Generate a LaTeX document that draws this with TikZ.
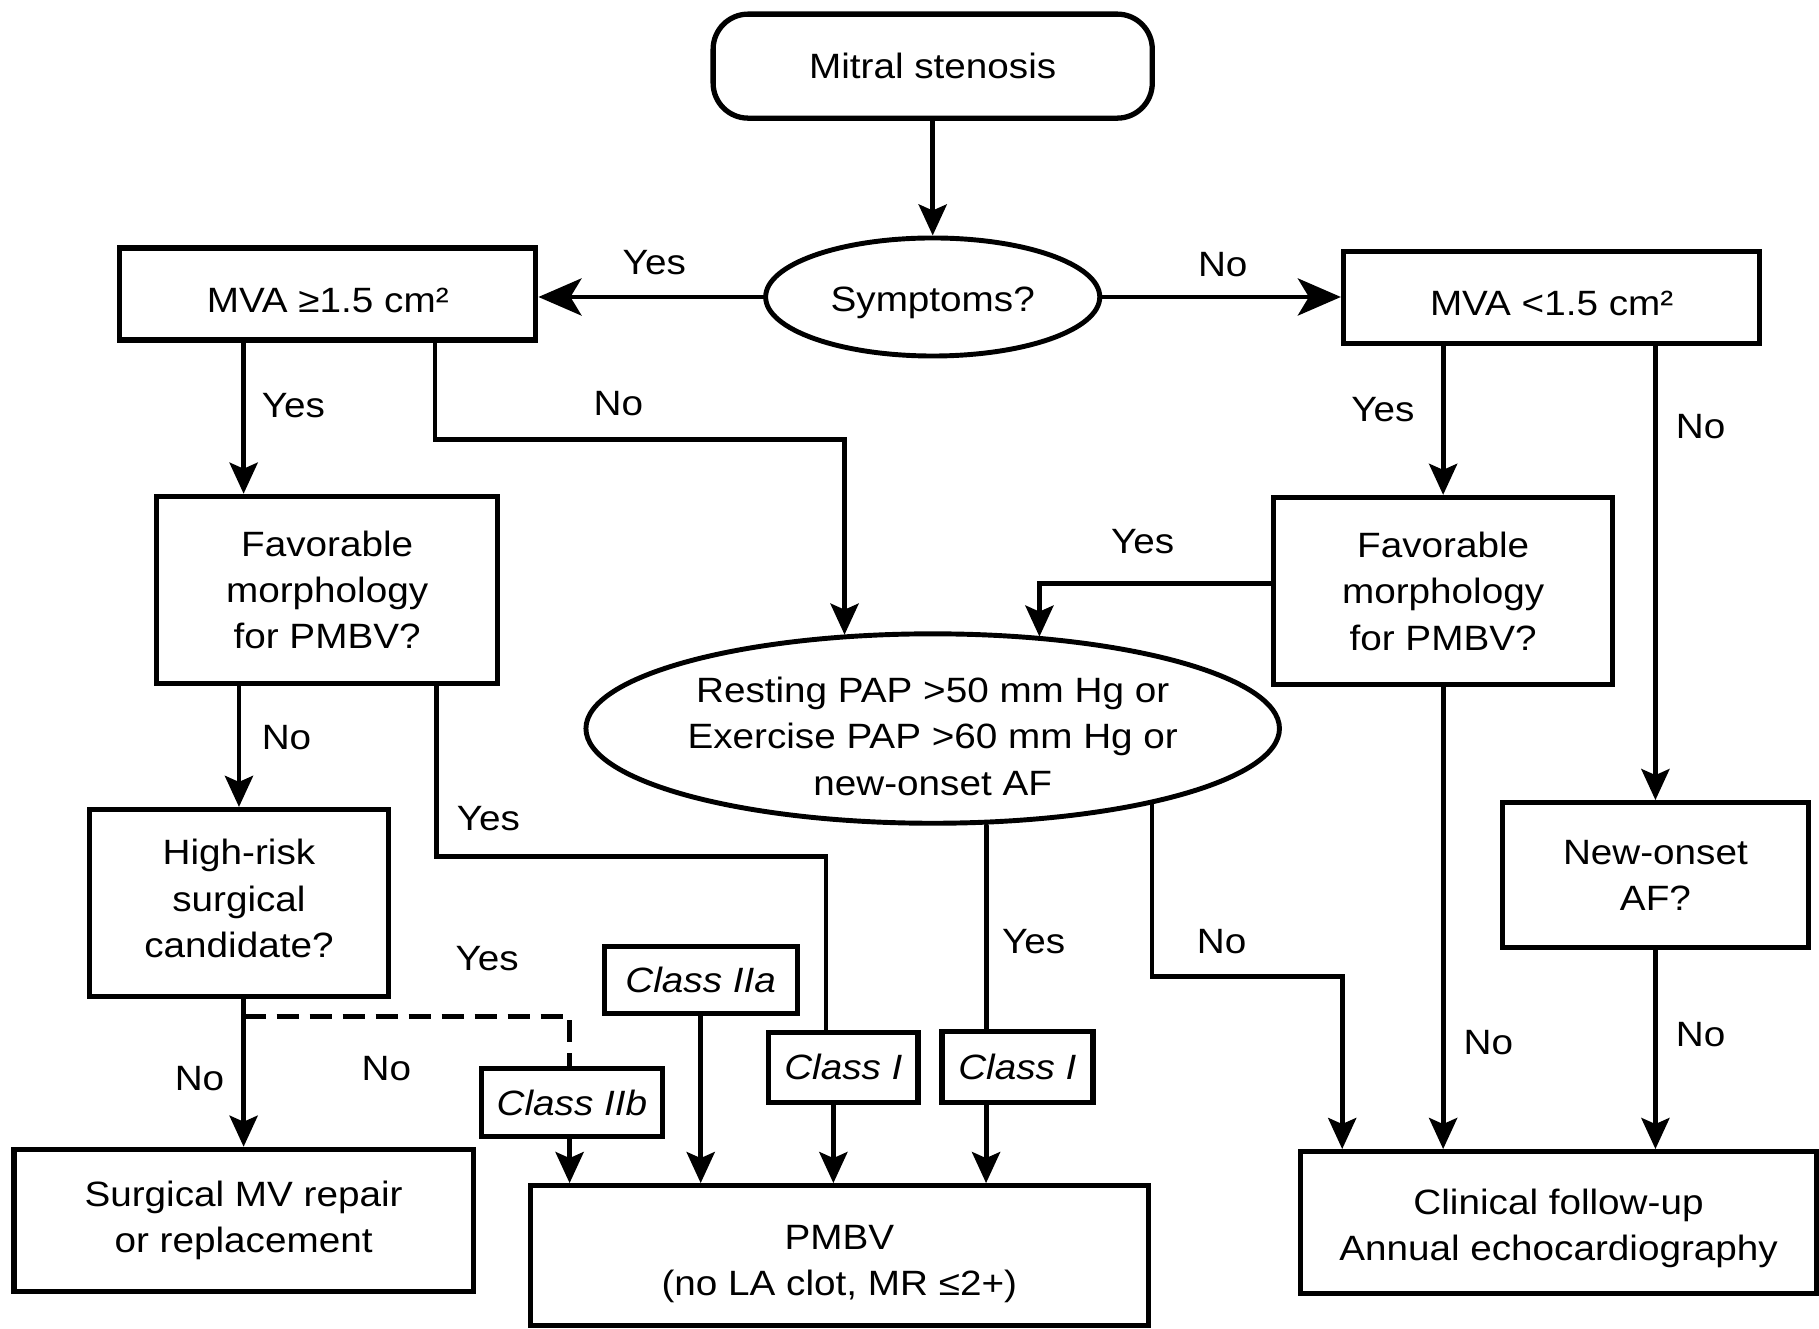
\documentclass[tikz,border=0pt]{standalone}
\usepackage{fontspec}
\setmainfont{Liberation Sans}[FakeStretch=1.1]
\usetikzlibrary{arrows.meta,shapes.geometric}

\begin{document}
\begin{tikzpicture}[x=0.0116cm,y=-0.0116cm,>={Stealth[length=3.1mm,width=2.8mm,inset=0.6mm]},
  font=\fontsize{10}{13.2}\selectfont,line cap=round,
  box/.style={draw,line width=1.5pt,align=center,inner sep=0pt},
  oval/.style={draw,ellipse,line width=1.4pt,align=center,inner sep=0pt},
  cls/.style={draw,line width=1.5pt,inner sep=0pt,font=\fontsize{10}{13.2}\selectfont\itshape},
  link/.style={line width=1.4pt},
  big/.style={line width=1.4pt,-{Stealth[length=4.3mm,width=3.7mm,inset=1.1mm]}}]
\useasboundingbox (0,0) rectangle (1568,1145);
\node[box,rounded corners=0.35cm,minimum width=4.39cm,minimum height=1.04cm] (start) at (804,57) {Mitral stenosis};
\node[oval,minimum width=3.34cm,minimum height=1.18cm] (sympt) at (804,256) {\rule{0pt}{10.5pt}Symptoms?};
\node[box,minimum width=4.16cm,minimum height=0.92cm] (mvaA) at (282.5,253.5) {\rule{0pt}{10.5pt}MVA ≥1.5 cm²};
\node[box,minimum width=4.16cm,minimum height=0.92cm] (mvaB) at (1337.5,256.5) {\rule{0pt}{10.5pt}MVA <1.5 cm²};
\node[box,minimum width=3.41cm,minimum height=1.87cm] (favA) at (282,508.5) {Favorable\\morphology\\for PMBV?};
\node[box,minimum width=3.39cm,minimum height=1.87cm] (favB) at (1244,509.5) {Favorable\\morphology\\for PMBV?};
\node[oval,minimum width=6.82cm,minimum height=1.86cm] (pap) at (804,628) {\rule{0pt}{11.6pt}Resting PAP >50 mm Hg or\\Exercise PAP >60 mm Hg or\\new-onset AF};
\node[box,minimum width=2.99cm,minimum height=1.87cm] (risk) at (206,778.5) {High-risk\\surgical\\candidate?\rule[-2.6pt]{0pt}{2.6pt}};
\node[box,minimum width=3.06cm,minimum height=1.45cm] (onset) at (1427,754.5) {New-onset\\AF?};
\node[box,minimum width=4.59cm,minimum height=1.42cm] (surg) at (210,1052) {Surgical MV repair\\or replacement};
\node[box,minimum width=6.18cm,minimum height=1.4cm] (pmbv) at (723.5,1082.5) {\rule{0pt}{11.6pt}PMBV\\(no LA clot, MR ≤2+)};
\node[box,minimum width=5.16cm,minimum height=1.42cm] (clin) at (1343.5,1054) {\rule{0pt}{10.5pt}Clinical follow-up\\Annual echocardiography};
\node[cls,minimum width=1.81cm,minimum height=0.68cm] (cIIb) at (493,950.5) {Class IIb};
\node[cls,minimum width=1.93cm,minimum height=0.67cm] (cIIa) at (604,845) {Class IIa};
\node[cls,minimum width=1.49cm,minimum height=0.7cm] (cIa) at (727,920) {Class I};
\node[cls,minimum width=1.51cm,minimum height=0.71cm] (cIb) at (877,919.5) {Class I};
\coordinate (nA) at (375,379);
\coordinate (nB) at (728,379);
\coordinate (yB) at (896,503);
\coordinate (yC) at (376,738);
\coordinate (yD) at (712,738);
\coordinate (dA) at (491,876);
\coordinate (yE) at (850,800);
\coordinate (nC) at (993,842);
\coordinate (nD) at (1157,842);
\draw[link,->] (start) -- (sympt);
\draw[big] (sympt.west) -- (sympt.west -| mvaA.east);
\draw[big] (sympt.east) -- (sympt.east -| mvaB.west);
\draw[link,->] (mvaA.south -| surg.north) -- (favA.north -| surg.north);
\draw[link,->] (mvaA.south -| nA) -- (nA) -- (nB) -- (nB |- pap.134.5);
\draw[link,->] (mvaB.south -| favB.north) -- (favB.north);
\draw[link,->] (mvaB.south -| onset.north) -- (onset.north);
\draw[link,->] (favB.west |- yB) -- (yB) -- (yB |- pap.39.6);
\draw[link,->] (favA.south -| risk.north) -- (risk.north);
\draw[link] (favA.south -| yC) -- (yC) -- (yD) -- (yD |- cIa.north);
\draw[link,->] (risk.south -| surg.north) -- (surg.north);
\draw[link,line cap=butt,dash pattern=on 2.2mm off 1.1mm] (surg.north |- dA) -- (dA) -- (dA |- cIIb.north);
\draw[link,->] (cIIb.south -| dA) -- (dA |- pmbv.north);
\draw[link,->] (cIIa.south) -- (cIIa.south |- pmbv.north);
\draw[link,->] ([xshift=-0.1cm]cIa.south) -- ([xshift=-0.1cm]cIa.south |- pmbv.north);
\draw[link] (yE |- pap.south) -- (yE |- cIb.north);
\draw[link,->] (cIb.south -| yE) -- (yE |- pmbv.north);
\draw[link,->] (nC |- pap.-18) -- (nC) -- (nD) -- (nD |- clin.north);
\draw[link,->] (favB.south) -- (favB.south |- clin.north);
\draw[link,->] (onset.south) -- (onset.south |- clin.north);
\node (yes1) at (564,226) {Yes};
\node (no1) at (1054,228) {No};
\node (yes2) at (253,350) {Yes};
\node (no2) at (533,348) {No};
\node (yes3) at (1192,353) {Yes};
\node (no3) at (1466,368) {No};
\node (yes4) at (985,467) {Yes};
\node (no4) at (247,636) {No};
\node (yes5) at (421,706) {Yes};
\node (yes6) at (420,826) {Yes};
\node (yes7) at (891,812) {Yes};
\node (no5) at (1053,812) {No};
\node (no6) at (172,930) {No};
\node (no7) at (333,921) {No};
\node (no8) at (1283,899) {No};
\node (no9) at (1466,892) {No};
\end{tikzpicture}
\end{document}
